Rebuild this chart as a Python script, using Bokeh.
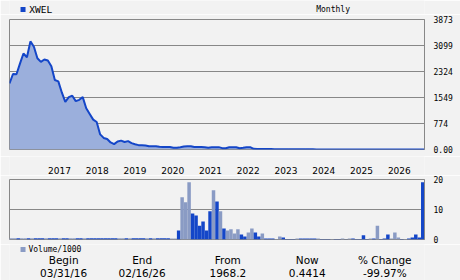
from bokeh.plotting import figure
from bokeh.layouts import column
from bokeh.models import Range1d, FixedTicker, LinearAxis, Grid, ColumnDataSource
from bokeh.core.properties import value
from bokeh.embed import file_html
from bokeh.resources import INLINE

# ---------------- data ----------------
ticker_name = "XWEL"
period_label = "Monthly"
volume_label = "Volume/1000"

# monthly closes, Mar 2016 .. Feb 2026 (index 0..119)
price = [1968, 2250, 2240, 2560, 2860, 2750, 3220, 3060, 2720, 2610,
         2680, 2650, 2480, 2070, 2030, 1700, 1420, 1560, 1600, 1440,
         1480, 1560, 1230, 1060, 890, 820, 450, 345, 315, 210,
         160, 240, 265, 225, 250, 190, 155, 130, 125, 120,
         100, 100, 100, 85, 75, 75, 75, 55, 50, 65,
         90, 100, 95, 75, 75, 75, 70, 55, 70, 70,
         70, 40, 40, 65, 70, 65, 40, 50, 70, 70,
         20, 18, 15, 14, 12, 12, 10, 9, 8, 8,
         7, 6, 6, 5, 5, 4.5, 4, 4, 3.5, 3.2,
         3, 2.8, 2.5, 2.3, 2.1, 2, 1.9, 1.8, 1.6, 1.5,
         1.4, 1.3, 1.2, 1.1, 1.0, 0.95, 0.9, 0.85, 0.8, 0.75,
         0.7, 0.68, 0.65, 0.6, 0.58, 0.55, 0.52, 0.5, 0.47, 0.4414]

# monthly volume / 1000 (index 0..119)
volume = [0.4, 0.4, 0.4, 0.4, 0.4, 0.4, 0.4, 0.4, 0.4, 0.4,
          0.4, 0.4, 0.4, 0.4, 0.4, 0.4, 0.4, 0.4, 0.4, 0.4,
          0.4, 0.4, 0.4, 0.4, 0.4, 0.4, 0.4, 0.4, 0.4, 0.4,
          0.4, 0.4, 0.4, 0.4, 0.4, 0.4, 0.4, 0.4, 0.4, 0.4,
          0.4, 0.4, 0.4, 0.4, 0.4, 0.4, 0.4, 0.3, 0.3, 3.0,
          14.1, 12.4, 19.1, 8.7, 8.0, 4.6, 6.0, 3.0, 9.4, 16.4,
          12.7, 9.4, 3.7, 3.0, 3.4, 2.0, 3.4, 1.7, 1.0, 2.3,
          3.7, 2.3, 1.0, 2.0, 0.3, 0.3, 0.3, 0.2, 1.0, 0.7,
          0.2, 0.2, 0.2, 0.3, 0.3, 0.3, 0.3, 0.3, 0.3, 0.3,
          0.2, 0.2, 0.2, 0.2, 0.2, 0.2, 0.3, 0.1, 0.3, 0.3,
          0.15, 0.15, 1.4, 0.2, 0.3, 0.3, 4.6, 0.2, 0.3, 1.7,
          0.3, 2.3, 0.7, 0.2, 0.2, 0.3, 0.7, 1.7, 0.7, 19.1]

# 1 = up month (dark bar), 0 = down month (light bar)
vol_up = [0, 0, 0, 1, 0, 0, 1, 0, 1, 1,
          1, 0, 1, 1, 1, 0, 1, 1, 0, 0,
          1, 1, 0, 1, 1, 1, 1, 1, 1, 1,
          1, 1, 0, 0, 1, 0, 1, 1, 1, 1,
          0, 1, 0, 1, 1, 1, 1, 0, 0, 1,
          0, 0, 0, 1, 1, 1, 1, 1, 1, 0,
          1, 0, 1, 0, 0, 0, 0, 1, 1, 0,
          0, 1, 1, 0, 1, 1, 1, 0, 0, 1,
          1, 1, 1, 0, 1, 1, 1, 1, 1, 0,
          1, 1, 1, 0, 1, 1, 0, 1, 0, 1,
          1, 1, 1, 1, 0, 1, 0, 1, 1, 1,
          0, 0, 0, 1, 0, 1, 1, 1, 1, 1]

years = ["2017", "2018", "2019", "2020", "2021", "2022", "2023", "2024", "2025", "2026"]
year_start_index = [10, 22, 34, 46, 58, 70, 82, 94, 106, 118]

price_ticks = [0, 774, 1549, 2324, 3099, 3873]
price_tick_labels = ["0.00", "774", "1549", "2324", "3099", "3873"]
vol_ticks = [0, 10, 20]
vol_tick_labels = ["0", "10", "20"]

stat_headers = ["Begin", "End", "From", "Now", "% Change"]
stat_values = ["03/31/16", "02/16/26", "1968.2", "0.4414", "-99.97%"]

# ---------------- style / layout ----------------
BG = "#f2f2f2"
GRID = "#888888"
LINE = "#1446c8"
FILL = "#9bafdc"
VOL_DOWN = "#8a9bc4"
MONO = "DejaVu Sans Mono"
SANS = "DejaVu Sans"
W = 460
FRAME_L, FRAME_R = 9, 36
stat_x = [60, 147, 242, 330, 416]   # centres of the stat columns (px)

n = len(price)
months = list(range(n))
xr = Range1d(0, n - 1)
px_per_month = (W - FRAME_L - FRAME_R) / (n - 1)


def strip(height, x_range=None):
    s = figure(width=W, height=height,
               x_range=x_range if x_range is not None else Range1d(0, W),
               y_range=Range1d(0, height),
               output_backend="svg", toolbar_location=None,
               x_axis_location=None, y_axis_location=None,
               min_border_left=0, min_border_right=0, min_border_top=0, min_border_bottom=0,
               background_fill_color=BG, border_fill_color=BG, outline_line_color=None)
    s.xgrid.visible = False
    s.ygrid.visible = False
    return s


def chart(height, y_ticks, y_labels, top, bottom):
    p = figure(width=W, height=height, x_range=xr, y_range=Range1d(y_ticks[0], y_ticks[-1]),
               output_backend="svg", toolbar_location=None,
               x_axis_location=None, y_axis_location=None,
               min_border_left=FRAME_L, min_border_right=FRAME_R,
               min_border_top=top, min_border_bottom=bottom,
               background_fill_color=BG, border_fill_color=BG,
               outline_line_color=GRID, outline_line_width=1)
    p.xgrid.visible = False
    p.ygrid.visible = False
    p.add_layout(Grid(dimension=1, ticker=FixedTicker(ticks=y_ticks),
                      grid_line_color=GRID, grid_line_width=1))
    ax = LinearAxis(ticker=FixedTicker(ticks=y_ticks),
                    major_label_overrides={t: s for t, s in zip(y_ticks, y_labels)},
                    axis_line_color=GRID, major_tick_line_color=None, minor_tick_line_color=None,
                    major_label_text_font=MONO, major_label_text_font_size="8px",
                    major_label_text_color="#000000", major_label_standoff=3)
    p.add_layout(ax, "right")
    return p


# ---------------- header strip ----------------
hdr = strip(14)
hdr.scatter(x=[15], y=[5], marker="square", size=5, fill_color=LINE, line_color=None)
hdr.text(x=[22], y=[5], text=[ticker_name], text_font=value(MONO), text_font_size=value("9.5px"),
         text_color="#000000", text_align="left", text_baseline="middle")
hdr.text(x=[340], y=[5], text=[period_label], text_font=value(MONO), text_font_size=value("8px"),
         text_color="#000000", text_align="left", text_baseline="middle")

# ---------------- price chart ----------------
p1 = chart(142, price_ticks, price_tick_labels, top=5, bottom=7)
src = ColumnDataSource(dict(x=months, y=price))
p1.varea(x="x", y1=0, y2="y", source=src, fill_color=FILL)
p1.line(x="x", y="y", source=src, line_color=LINE, line_width=2)

# ---------------- year strip ----------------
yr = strip(19, x_range=Range1d(-FRAME_L / px_per_month, (W - FRAME_L) / px_per_month))
yr.text(x=year_start_index, y=[5] * len(years), text=years,
        text_font=value(SANS), text_font_size=value("9px"), text_color="#000000",
        text_align="left", text_baseline="middle", x_offset=-1)

# ---------------- volume chart ----------------
p2 = chart(69, vol_ticks, vol_tick_labels, top=4, bottom=5)
vsrc = ColumnDataSource(dict(
    left=[m - 1 for m in months], right=months, top=volume,
    color=[LINE if u else VOL_DOWN for u in vol_up]))
p2.quad(left="left", right="right", bottom=0, top="top", source=vsrc,
        fill_color="color", line_color=None)

# ---------------- bottom strip ----------------
bot = strip(36)
bot.scatter(x=[15], y=[31], marker="square", size=5, fill_color=VOL_DOWN, line_color=None)
bot.text(x=[21], y=[31], text=[volume_label], text_font=value(MONO), text_font_size=value("8px"),
         text_color="#000000", text_align="left", text_baseline="middle")
bot.text(x=stat_x, y=[21] * len(stat_x), text=stat_headers,
         text_font=value(SANS), text_font_size=value("10.5px"), text_color="#000000",
         text_align="center", text_baseline="middle")
bot.text(x=stat_x, y=[8] * len(stat_x), text=stat_values,
         text_font=value(SANS), text_font_size=value("10.5px"), text_color="#000000",
         text_align="center", text_baseline="middle")

layout = column(hdr, p1, yr, p2, bot, spacing=0)
open("out.html", "w").write(file_html(layout, INLINE))
